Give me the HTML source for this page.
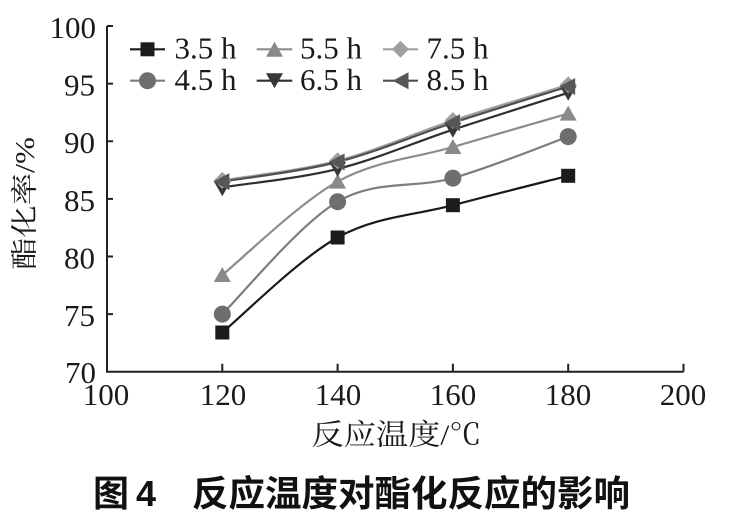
<!DOCTYPE html>
<html><head><meta charset="utf-8"><style>
html,body{margin:0;padding:0;background:#fff;}
svg{display:block;}
</style></head><body>
<svg width="744" height="522" viewBox="0 0 744 522" xmlns="http://www.w3.org/2000/svg">
<rect width="744" height="522" fill="#fff"/>
<!-- axes -->
<g stroke="#222" stroke-width="2" fill="none">
<path d="M107 26 V371.7 H683.5"/>
<path d="M107 26 h6 M107 83.6 h6 M107 141.2 h6 M107 198.9 h6 M107 256.5 h6 M107 314.1 h6"/>
<path d="M222.3 371.7 v-8 M337.6 371.7 v-8 M452.9 371.7 v-8 M568.2 371.7 v-8 M683.5 371.7 v-8"/>
</g>
<g font-family="'Liberation Serif', serif" font-size="31" fill="#1a1a1a" text-anchor="end">
<text x="96" y="38">100</text>
<text x="95" y="95.6">95</text>
<text x="95" y="153.2">90</text>
<text x="95" y="210.9">85</text>
<text x="95" y="268.5">80</text>
<text x="95" y="326.1">75</text>
<text x="96" y="383">70</text>
</g>
<g font-family="'Liberation Serif', serif" font-size="31" fill="#1a1a1a" text-anchor="middle">
<text x="106" y="405">100</text>
<text x="223" y="405">120</text>
<text x="338" y="405">140</text>
<text x="453" y="405">160</text>
<text x="568" y="405">180</text>
<text x="683" y="405">200</text>
</g>
<text x="311.5" y="444.5" font-family="'Liberation Serif','Noto Serif CJK SC',serif" font-size="29" fill="#1a1a1a" textLength="170" lengthAdjust="spacingAndGlyphs">反应温度/℃</text>
<text transform="translate(34,270) rotate(-90)" x="0" y="0" font-family="'Liberation Serif','Noto Serif CJK SC',serif" font-size="27" fill="#1a1a1a" textLength="133" lengthAdjust="spacingAndGlyphs">酯化率/%</text>

<!-- series lines -->
<g fill="none" stroke-width="2.2">
<path stroke="#1a1a1a" d="M222.3 332.5 C241.5 316.67 299.2 258.72 337.6 237.5 C376 216.28 414.5 215.48 452.9 205.2 C491.3 194.92 549 180.7 568.2 175.8"/>
<path stroke="#7d7d7d" d="M222.3 314.1 C241.5 295.37 299.2 224.37 337.6 201.7 C376 179.03 414.5 188.95 452.9 178.1 C491.3 167.25 549 143.52 568.2 136.6"/>
<path stroke="#8c8c8c" d="M222.3 275 C241.5 259.43 299.2 202.93 337.6 181.6 C376 160.27 414.5 158.33 452.9 147 C491.3 135.67 549 119.17 568.2 113.6"/>
<path stroke="#2e2e2e" d="M222.3 187.3 C241.5 184.23 299.2 178.5 337.6 168.9 C376 159.3 414.5 142.38 452.9 129.7 C491.3 117.02 549 98.95 568.2 92.8"/>
<path stroke="#a0a0a0" d="M222.3 180.4 C241.5 177.13 299.2 170.78 337.6 160.8 C376 150.82 414.5 133.17 452.9 120.5 C491.3 107.83 549 90.75 568.2 84.8"/>
<path stroke="#505050" d="M222.3 181.6 C241.5 178.33 299.2 171.8 337.6 162 C376 152.2 414.5 135.38 452.9 122.8 C491.3 110.22 549 92.55 568.2 86.5"/>
</g>

<!-- markers -->
<g fill="#1c1c1c">
<rect x="215.3" y="325.5" width="14" height="14"/>
<rect x="330.6" y="230.5" width="14" height="14"/>
<rect x="445.9" y="198.2" width="14" height="14"/>
<rect x="561.2" y="168.8" width="14" height="14"/>
</g>
<g fill="#6e6e6e">
<circle cx="222.3" cy="314.1" r="8.5"/>
<circle cx="337.6" cy="201.7" r="8.5"/>
<circle cx="452.9" cy="178.1" r="8.5"/>
<circle cx="568.2" cy="136.6" r="8.5"/>
</g>
<g fill="#8a8a8a">
<polygon points="222.3,267 213.8,282 230.8,282"/>
<polygon points="337.6,173.6 329.1,188.6 346.1,188.6"/>
<polygon points="452.9,139 444.4,154 461.4,154"/>
<polygon points="568.2,105.6 559.7,120.6 576.7,120.6"/>
</g>
<g fill="#383838">
<polygon points="222.3,196.3 213.8,181.3 230.8,181.3"/>
<polygon points="337.6,176.9 329.1,161.9 346.1,161.9"/>
<polygon points="452.9,137.7 444.4,122.7 461.4,122.7"/>
<polygon points="568.2,100.8 559.7,85.8 576.7,85.8"/>
</g>
<g fill="#a0a0a0">
<polygon points="222.3,171.9 230.8,180.4 222.3,188.9 213.8,180.4"/>
<polygon points="337.6,152.3 346.1,160.8 337.6,169.3 329.1,160.8"/>
<polygon points="452.9,112 461.4,120.5 452.9,129 444.4,120.5"/>
<polygon points="568.2,76.3 576.7,84.8 568.2,93.3 559.7,84.8"/>
</g>
<g fill="#575757">
<polygon points="213.3,181.6 229.3,173.1 229.3,190.1"/>
<polygon points="328.6,162 344.6,153.5 344.6,170.5"/>
<polygon points="443.9,122.8 459.9,114.3 459.9,131.3"/>
<polygon points="559.2,86.5 575.2,78 575.2,95"/>
</g>

<!-- legend -->
<g stroke-width="2.2">
<line x1="130" y1="49.3" x2="165" y2="49.3" stroke="#1a1a1a"/>
<line x1="130" y1="80.7" x2="165" y2="80.7" stroke="#7d7d7d"/>
<line x1="256.7" y1="49.3" x2="292.3" y2="49.3" stroke="#8c8c8c"/>
<line x1="256.7" y1="80.7" x2="292.3" y2="80.7" stroke="#2e2e2e"/>
<line x1="383" y1="49.3" x2="418" y2="49.3" stroke="#a0a0a0"/>
<line x1="383" y1="80.7" x2="418" y2="80.7" stroke="#505050"/>
</g>
<rect x="140.5" y="42.3" width="14" height="14" fill="#1c1c1c"/>
<circle cx="147.5" cy="80.7" r="8.5" fill="#6e6e6e"/>
<polygon points="274.5,41.8 266,56.8 283,56.8" fill="#8a8a8a"/>
<polygon points="274.5,88.2 266,73.2 283,73.2" fill="#383838"/>
<polygon points="400.5,40.8 409,49.3 400.5,57.8 392,49.3" fill="#a0a0a0"/>
<polygon points="392.5,80.7 408.5,72.2 408.5,89.2" fill="#575757"/>
<g font-family="'Liberation Serif', serif" font-size="31" fill="#1a1a1a">
<text x="174.5" y="58.5">3.5 h</text>
<text x="174.5" y="90">4.5 h</text>
<text x="300" y="58.5">5.5 h</text>
<text x="300" y="90">6.5 h</text>
<text x="426.5" y="58.5">7.5 h</text>
<text x="426.5" y="90">8.5 h</text>
</g>

<!-- caption -->
<g font-family="'Liberation Sans','Noto Sans CJK SC',sans-serif" font-weight="bold" font-size="36" fill="#111">
<text x="93" y="506">图</text>
<text x="136" y="506" font-family="'Liberation Sans',sans-serif">4</text>
<text x="192" y="506" textLength="438" lengthAdjust="spacingAndGlyphs">反应温度对酯化反应的影响</text>
</g>
</svg>
</body></html>
